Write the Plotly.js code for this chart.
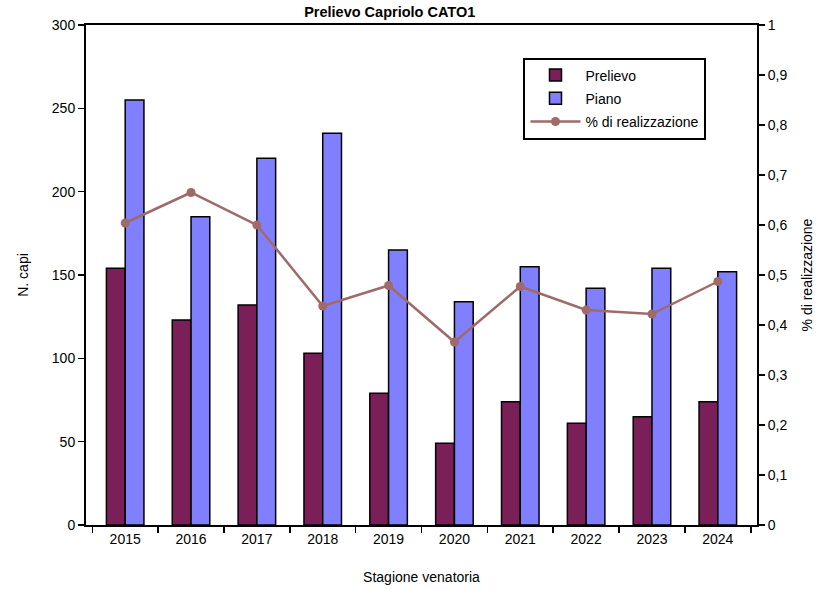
<!DOCTYPE html>
<html>
<head>
<meta charset="utf-8">
<script src="https://cdn.plot.ly/plotly-3.0.1.min.js"></script>
<style>html,body{margin:0;padding:0;background:#fff;}#chart{width:817px;height:590px;}</style>
</head>
<body>
<div id="chart"></div>
<script>
const years = ['2015','2016','2017','2018','2019','2020','2021','2022','2023','2024'];
const prelievo = [154, 123, 132, 103, 79, 49, 74, 61, 65, 74];
const piano = [255, 185, 220, 235, 165, 134, 155, 142, 154, 152];
const realizzazione = [0.604, 0.665, 0.6, 0.438, 0.479, 0.366, 0.477, 0.43, 0.422, 0.487];
const leftTicks = [0, 50, 100, 150, 200, 250, 300];
const rightTicks = [0, 0.1, 0.2, 0.3, 0.4, 0.5, 0.6, 0.7, 0.8, 0.9, 1];

const font = {family: 'Liberation Sans, Arial, sans-serif', color: '#000', size: 14};

const traces = [
  {type: 'bar', name: 'Prelievo', x: years, y: prelievo, legendgroup: 'a',
   marker: {color: '#7B1F58', line: {color: '#000', width: 1.5}}},
  {type: 'bar', name: 'Piano', x: years, y: piano, legendgroup: 'b',
   marker: {color: '#8080FF', line: {color: '#000', width: 1.5}}},
  {type: 'scatter', mode: 'lines+markers', name: '% di realizzazione', x: years, y: realizzazione,
   legendgroup: 'c',
   yaxis: 'y2', line: {color: '#A06A6A', width: 2.5}, marker: {color: '#A06A6A', size: 9}}
];

const layout = {
  width: 817, height: 590,
  margin: {l: 86, r: 60, t: 25, b: 65},
  paper_bgcolor: '#fff', plot_bgcolor: '#fff',
  font: font,
  separators: ',.',
  showlegend: true,
  barmode: 'group', bargap: 0.43, bargroupgap: 0,
  title: {text: '<b>Prelievo Capriolo CATO1</b>', x: 0.477, xanchor: 'center', y: 0.988, yanchor: 'top', font: {size: 14.5, family: font.family, color: '#000'}},
  xaxis: {
    type: 'category', showline: true, linecolor: '#000', linewidth: 2, mirror: true,
    ticks: 'outside', tickson: 'boundaries', ticklen: 6, tickwidth: 1.5, tickcolor: '#000',
    showgrid: false, zeroline: false,
    tickfont: {size: 14},
    title: {text: 'Stagione venatoria', standoff: 26, font: {size: 14}}
  },
  yaxis: {
    range: [0, 300], tickvals: leftTicks, ticks: 'outside', ticklen: 6, tickwidth: 1.5, tickcolor: '#000',
    showline: true, linecolor: '#000', linewidth: 2, showgrid: false, zeroline: false,
    tickfont: {size: 14},
    title: {text: 'N. capi', standoff: 20, font: {size: 14}}
  },
  yaxis2: {
    overlaying: 'y', side: 'right', range: [0, 1], tickvals: rightTicks,
    ticks: 'outside', ticklen: 6, tickwidth: 1.5, tickcolor: '#000',
    showline: true, linecolor: '#000', linewidth: 2, showgrid: false, zeroline: false,
    tickfont: {size: 14},
    title: {text: '% di realizzazione', standoff: 16, font: {size: 14}}
  },
  legend: {
    x: 0.652, y: 0.935, xanchor: 'left', yanchor: 'top',
    bgcolor: '#fff', bordercolor: '#000', borderwidth: 2,
    font: {size: 14}, tracegroupgap: 2, itemwidth: 50
  }
};

Plotly.newPlot('chart', traces, layout, {displayModeBar: false, staticPlot: true});
</script>
</body>
</html>
